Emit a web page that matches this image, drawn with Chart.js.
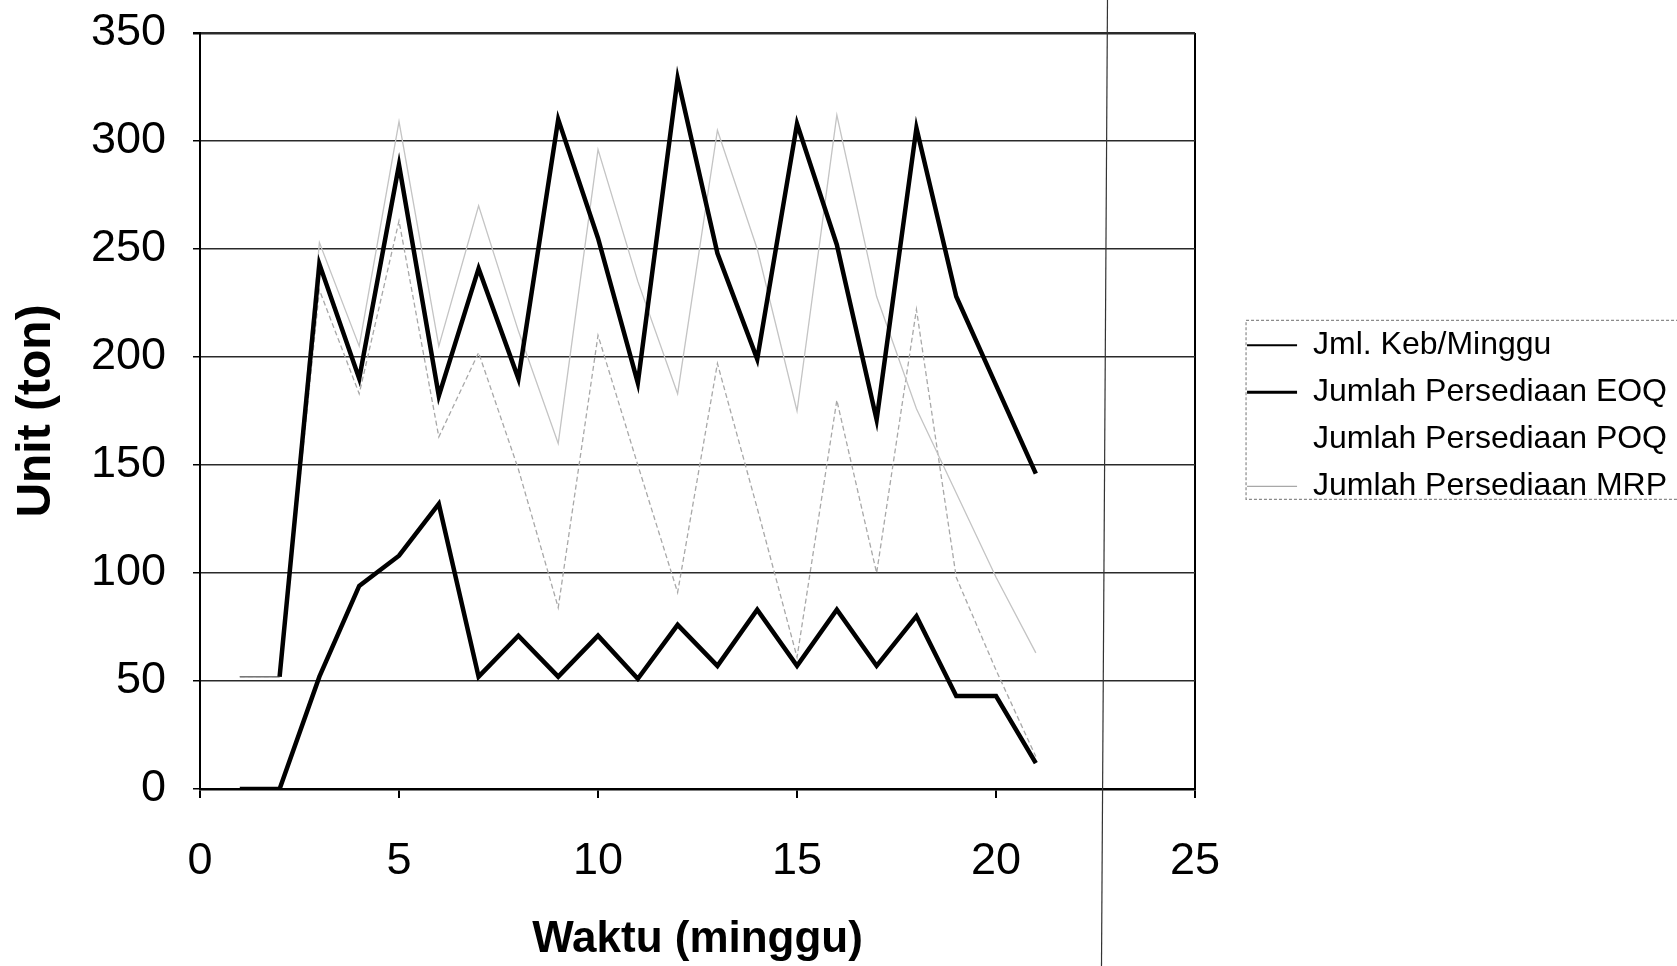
<!DOCTYPE html>
<html>
<head>
<meta charset="utf-8">
<script src="https://cdn.jsdelivr.net/npm/chart.js@4.4.1/dist/chart.umd.min.js"></script>
<style>
  html, body { margin: 0; padding: 0; background: #fff; }
  #wrap { width: 1677px; height: 966px; position: relative; }
</style>
</head>
<body>
<div id="wrap"><canvas id="myChart"></canvas></div>
<script>
// minggu ke-
const weeks = [1, 2, 3, 4, 5, 6, 7, 8, 9, 10, 11, 12, 13, 14, 15, 16, 17, 18, 19, 20, 21];
const jmlKeb  = [0, 0, 52, 94, 108, 132, 52, 71, 52, 71, 51, 76, 57, 83, 57, 83, 57, 80, 43, 43, 12];
const persEOQ = [52, 52, 243, 190, 289, 182, 241, 190, 310, 255, 188, 329, 248, 199, 308, 252, 171, 306, 228, 187, 146];
const persPOQ = [52, 52, 253, 205, 309, 205, 270, 212, 160, 296, 235, 183, 305, 250, 175, 312, 228, 176, 137, 98, 63];
const persMRP = [52, 52, 231, 183, 263, 163, 202, 148, 84, 210, 150, 91, 197, 130, 61, 180, 100, 222, 98, 55, 15];
const seriesNames = ["Jml. Keb/Minggu", "Jumlah Persediaan EOQ", "Jumlah Persediaan POQ", "Jumlah Persediaan MRP"];
const xTicks = [0, 5, 10, 15, 20, 25];
const yTicks = [0, 50, 100, 150, 200, 250, 300, 350];
const foldAt = 22.8; // garis lipatan hasil scan

const fontFam = 'Arial, "Liberation Sans", sans-serif';

function toPoints(ys) {
    return weeks.map((w, i) => ({ x: w, y: ys[i] }));
}

const legendFrame = {
    id: "legendFrame",
    afterDraw(chart) {
        const lg = chart.legend;
        const hb = lg.legendHitBoxes;
        if (!hb || !hb.length) return;
        const ctx = chart.ctx;
        const top = hb[0].top - 9;
        const bottom = hb[hb.length - 1].top + 29;
        const left = lg.left + 14;
        ctx.save();
        ctx.strokeStyle = "#8a8a8a";
        ctx.lineWidth = 1.2;
        ctx.setLineDash([3, 2]);
        ctx.strokeRect(left, top, chart.width - left + 5, bottom - top);
        ctx.restore();
    }
};

const foldLine = {
    id: "foldLine",
    afterDraw(chart) {
        const ctx = chart.ctx;
        const px = chart.scales.x.getPixelForValue(foldAt);
        ctx.save();
        ctx.strokeStyle = "#333";
        ctx.lineWidth = 1.2;
        ctx.beginPath();
        ctx.moveTo(px, 0);
        ctx.lineTo(px - 6, chart.height);
        ctx.stroke();
        ctx.restore();
    }
};

const config = {
    type: "line",
    data: {
        datasets: [
            { label: seriesNames[0], data: toPoints(jmlKeb), borderColor: "#000", borderWidth: 4.5 },
            {
                label: seriesNames[1], data: toPoints(persEOQ), borderColor: "#000", borderWidth: 4.5,
                segment: {
                    borderColor: c => (c.p1.parsed.x <= 2 ? "#777" : undefined),
                    borderWidth: c => (c.p1.parsed.x <= 2 ? 1.5 : undefined)
                }
            },
            { label: seriesNames[2], data: toPoints(persPOQ), borderColor: "#c4c4c4", borderWidth: 1.3 },
            { label: seriesNames[3], data: toPoints(persMRP), borderColor: "#a8a8a8", borderWidth: 1.3, borderDash: [5, 3] }
        ]
    },
    options: {
        responsive: true,
        maintainAspectRatio: false,
        animation: false,
        elements: { point: { radius: 0 }, line: { tension: 0, fill: false } },
        layout: { padding: { top: 33, left: 0, right: 0, bottom: 0 } },
        plugins: {
            tooltip: { enabled: false },
            legend: {
                position: "right",
                fullSize: false,
                maxWidth: 520,
                title: { display: true, text: " ", font: { size: 8 }, padding: 0 },
                labels: {
                    color: "#000",
                    font: { family: fontFam, size: 32 },
                    usePointStyle: true,
                    pointStyle: "line",
                    pointStyleWidth: 50,
                    padding: 15,
                    generateLabels(chart) {
                        const items = Chart.defaults.plugins.legend.labels.generateLabels(chart);
                        items[0].lineWidth = 2;
                        items[1].lineWidth = 3;
                        items[2].strokeStyle = "rgba(0,0,0,0)";
                        return items;
                    }
                }
            }
        },
        scales: {
            x: {
                type: "linear",
                min: 0,
                max: 25,
                afterBuildTicks: s => { s.ticks = xTicks.map(v => ({ value: v })); },
                afterFit: s => { s.height = 177; s.paddingLeft = 0; s.paddingRight = 0; },
                grid: {
                    color: c => (c.tick && c.tick.value === 25 ? "#000" : "rgba(0,0,0,0)"),
                    tickColor: "#000",
                    lineWidth: 2,
                    tickLength: 9
                },
                border: { display: true, color: "#000", width: 2.5 },
                ticks: { color: "#000", font: { family: fontFam, size: 45 }, padding: 37, maxRotation: 0 },
                title: {
                    display: true, text: "Waktu (minggu)", color: "#000",
                    font: { family: fontFam, size: 44, weight: "bold" },
                    padding: { top: 20, bottom: 0 }
                }
            },
            y: {
                min: 0,
                max: 350,
                afterBuildTicks: s => { s.ticks = yTicks.map(v => ({ value: v })); },
                afterFit: s => { s.width = 200; s.paddingTop = 0; s.paddingBottom = 0; },
                grid: {
                    color: "#2a2a2a",
                    lineWidth: c => (c.tick && c.tick.value === 350 ? 2.5 : 1.5),
                    tickColor: "#000",
                    tickLength: 7
                },
                border: { color: "#000", width: 2 },
                ticks: { color: "#000", font: { family: fontFam, size: 45 }, padding: 27 },
                title: {
                    display: true, text: "Unit (ton)", color: "#000",
                    font: { family: fontFam, size: 48, weight: "bold" },
                    padding: { top: 8, bottom: 0 }
                }
            },
            yR: {
                position: "right",
                display: true,
                grid: { display: false, drawTicks: false },
                border: { display: false },
                ticks: { display: false },
                afterFit: s => { s.width = 37; }
            }
        }
    },
    plugins: [legendFrame, foldLine]
};

window.onload = function () {
    const myChart = document.getElementById("myChart");
    new Chart(myChart, config);
};
</script>
</body>
</html>
